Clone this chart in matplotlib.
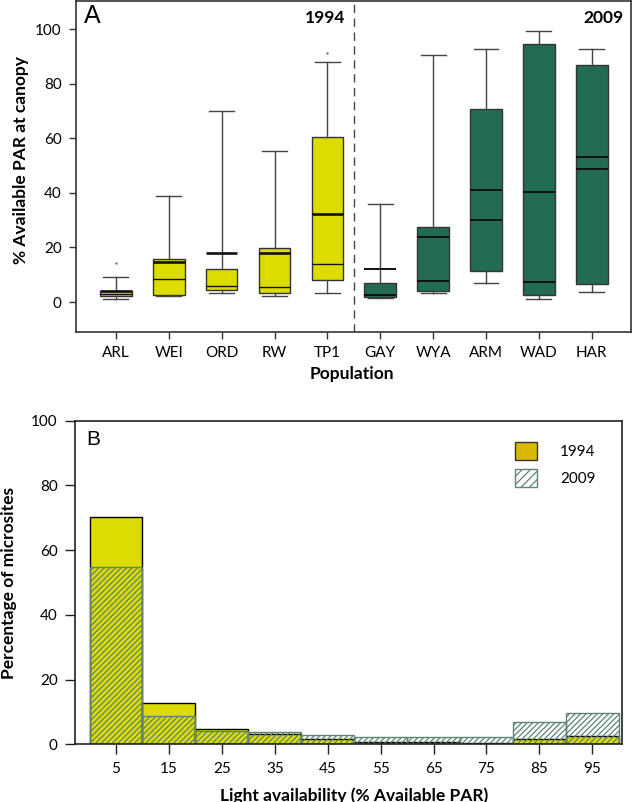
import numpy as np
import matplotlib
matplotlib.use('Agg')
import matplotlib.pyplot as plt
from matplotlib.patches import Patch

plt.rcParams['font.family'] = ['Lato', 'DejaVu Sans']
plt.rcParams['hatch.linewidth'] = 0.9

# Panel A: box statistics
populations = ['ARL', 'WEI', 'ORD', 'RW', 'TP1', 'GAY', 'WYA', 'ARM', 'WAD', 'HAR']
whis_lo = [1.2, 2.3, 3.2, 2.3, 3.2, 1.6, 3.2, 6.9, 1.1, 3.8]
q1 = [2.2, 2.4, 4.3, 3.2, 8.1, 1.8, 3.9, 11.2, 2.7, 6.7]
medians = [2.9, 8.3, 5.8, 5.4, 14.1, 2.6, 7.7, 30.2, 7.5, 48.6]
means = [4.1, 14.5, 17.8, 17.9, 32.1, 12.0, 23.7, 41.1, 40.3, 53.0]
q3 = [4.1, 15.8, 12.2, 19.8, 60.5, 6.9, 27.5, 70.7, 94.6, 86.9]
whis_hi = [9.1, 38.8, 70.0, 55.2, 88.0, 35.8, 90.7, 92.6, 99.5, 92.7]
fliers = [[14.2], [], [], [], [91.1], [], [], [], [], []]

# Panel B: histogram of microsites
bins = [5, 15, 25, 35, 45, 55, 65, 75, 85, 95]
pct_1994 = [70.2, 12.8, 4.6, 3.2, 1.6, 0.7, 0.8, 0.5, 1.8, 2.6]
pct_2009 = [54.9, 8.9, 4.2, 3.7, 2.9, 2.4, 2.3, 2.4, 7.0, 9.7]

yellow = '#DCDC00'
green = '#236B55'
hatch_col = '#5F8472'

fig = plt.figure(figsize=(6.33, 8.02), dpi=100)

# ---------------- Panel A ----------------
ax1 = fig.add_axes([0.1196, 0.586, 0.877, 0.4127])
positions = np.arange(1, 11)
stats = []
for i in range(10):
    stats.append(dict(med=medians[i], q1=q1[i], q3=q3[i], whislo=whis_lo[i],
                      whishi=whis_hi[i], mean=means[i], fliers=fliers[i]))

for idx, color, mean_lw, med_lw in [(range(0, 5), yellow, 1.9, 1.0), (range(5, 10), green, 1.4, 1.4)]:
    idx = list(idx)
    bp = ax1.bxp([stats[i] for i in idx], positions=positions[idx], widths=0.6,
                 capwidths=0.47, patch_artist=True, showmeans=True, meanline=True,
                 boxprops=dict(facecolor=color, edgecolor='#333333', linewidth=1.0),
                 whiskerprops=dict(color='#444444', linewidth=1.0, linestyle='-'),
                 capprops=dict(color='#444444', linewidth=1.0),
                 medianprops=dict(color='#111111', linewidth=med_lw),
                 meanprops=dict(color='#111111', linewidth=mean_lw, linestyle='-'),
                 flierprops=dict(marker='.', markersize=1.5, markerfacecolor='#777777',
                                 markeredgecolor='#777777'))

ax1.axvline(5.5, color='#444444', linewidth=1.0, dashes=(6, 4))
ax1.set_xlim(0.24, 10.74)
ax1.set_ylim(-11, 110.3)
ax1.set_yticks([0, 20, 40, 60, 80, 100])
ax1.set_xticks(positions)
ax1.set_xticklabels(populations)
ax1.tick_params(direction='out', length=5, width=1, pad=5, labelsize=11, color='#333333')
ax1.set_xlabel('Population', fontsize=12.5, fontweight='bold')
ax1.set_ylabel('% Available PAR at canopy', fontsize=12.5, fontweight='bold')
ax1.xaxis.set_label_coords(0.498, -0.103)
ax1.yaxis.set_label_coords(-0.084, 0.52)
for s in ax1.spines.values():
    s.set_color('#333333')
    s.set_linewidth(1.2)
ax1.text(0.015, 0.99, 'A', transform=ax1.transAxes, fontsize=18, va='top', ha='left',
         family='Liberation Sans')
ax1.text(5.33, 104, '1994', fontsize=12.5, fontweight='bold', ha='right', va='center')
ax1.text(10.6, 104, '2009', fontsize=12.5, fontweight='bold', ha='right', va='center')

# ---------------- Panel B ----------------
ax2 = fig.add_axes([0.1185, 0.0719, 0.864, 0.4035])
ax2.bar(bins, pct_1994, width=10, color=yellow, edgecolor='black', linewidth=1.0)
ax2.bar(bins, pct_2009, width=10, facecolor='none', edgecolor=hatch_col,
        hatch='//////', linewidth=1.0)
ax2.set_xlim(-2.74, 100.6)
ax2.set_ylim(0, 100)
ax2.set_xticks(bins)
ax2.set_yticks([0, 20, 40, 60, 80, 100])
ax2.tick_params(direction='out', length=7.5, width=1, pad=5, labelsize=11, color='#222222')
ax2.set_xlabel('Light availability (% Available PAR)', fontsize=12.5, fontweight='bold')
ax2.set_ylabel('Percentage of microsites', fontsize=12.5, fontweight='bold')
ax2.xaxis.set_label_coords(0.51, -0.132)
ax2.yaxis.set_label_coords(-0.106, 0.50)
for s in ax2.spines.values():
    s.set_color('#222222')
    s.set_linewidth(1.2)
ax2.text(0.02, 0.97, 'B', transform=ax2.transAxes, fontsize=15, va='top', ha='left',
         family='Liberation Sans')

handles = [Patch(facecolor='#D9B900', edgecolor='#333333', linewidth=1.0, label='1994'),
           Patch(facecolor='white', edgecolor=hatch_col, hatch='////', linewidth=1.0, label='2009')]
ax2.legend(handles=handles, loc='upper left', bbox_to_anchor=(0.804, 0.935), frameon=False,
           fontsize=11, handlelength=1.45, handleheight=1.45, handletextpad=1.5,
           labelspacing=0.6, borderpad=0, borderaxespad=0)

fig.savefig('out.png', dpi=100)
